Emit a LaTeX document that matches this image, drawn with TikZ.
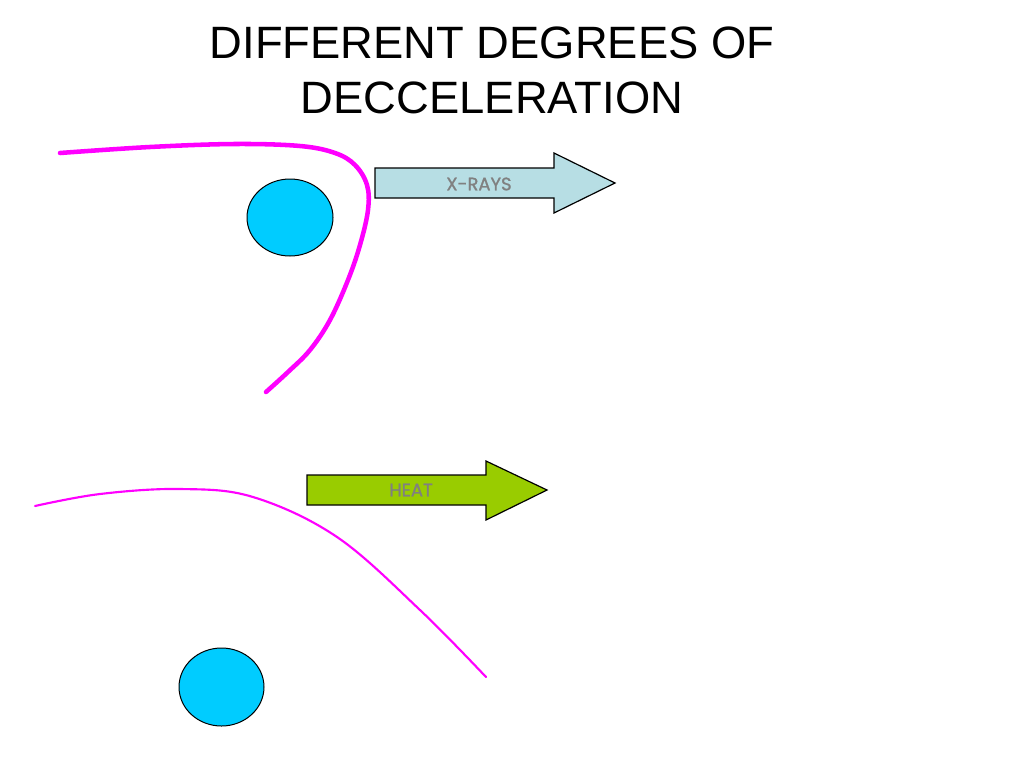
\documentclass[tikz,border=0pt]{standalone}
\usepackage{fontspec}
\usetikzlibrary{shapes.geometric}
\setmainfont{Liberation Sans}
\newfontfamily\arrowfont[FakeBold=1.2]{Poppins}
\begin{document}
\begin{tikzpicture}[x=0.75pt,y=-0.75pt,
  titletext/.style={font=\fontsize{34pt}{41pt}\selectfont, inner sep=0pt, anchor=base},
  arrowtext/.style={font=\arrowfont\fontsize{13.5pt}{15pt}\selectfont, text=arrowgrey, inner sep=0pt},
  ball/.style={draw=black, line width=0.75pt, fill=ballblue, ellipse, inner sep=0pt},
  trackline/.style={draw=pathmag, line cap=round, line join=round},
  shaft/.style={draw=black, line width=0.9pt, line join=miter}
]
\definecolor{ballblue}{RGB}{0,204,255}
\definecolor{pathmag}{RGB}{255,0,255}
\definecolor{xrayfill}{RGB}{183,222,228}
\definecolor{heatfill}{RGB}{153,204,0}
\definecolor{arrowgrey}{RGB}{128,128,128}
\useasboundingbox[fill=white] (0,0) rectangle (1024,768);

% title
\node[titletext] (title1) at (492,58) {DIFFERENT DEGREES OF};
\node[titletext] (title2) at (492,113) {DECCELERATION};

% top: strong deceleration
\draw[trackline, line width=3.4pt] plot[smooth, tension=0.6] coordinates {
  (60,153) (150,147) (235,144) (300,146) (335,153) (355,165) (367,185)
  (368,210) (360,245) (348,280) (330,320) (310,350) (288,372) (266,392)};
\node[ball, minimum width=64.5pt, minimum height=57.75pt] (nucleus1) at (290,217.5) {};
\draw[shaft, fill=xrayfill] (375,168) -- (554,168) -- (554,153) -- (615,183) -- (554,213) -- (554,198) -- (375,198) -- cycle;
\node[arrowtext] (xrays) at (479,184) {X-RAYS};

% bottom: weak deceleration
\draw[trackline, line width=1.6pt] plot[smooth, tension=0.6] coordinates {
  (35,506) (100,494) (180,489) (253,497) (337,537) (420,610) (486,677)};
\node[ball, minimum width=63.75pt, minimum height=58.5pt] (nucleus2) at (221.5,687) {};
\draw[shaft, fill=heatfill] (307,475) -- (486,475) -- (486,461) -- (547,490) -- (486,520) -- (486,505) -- (307,505) -- cycle;
\node[arrowtext] (heat) at (411,490) {HEAT};
\end{tikzpicture}
\end{document}
